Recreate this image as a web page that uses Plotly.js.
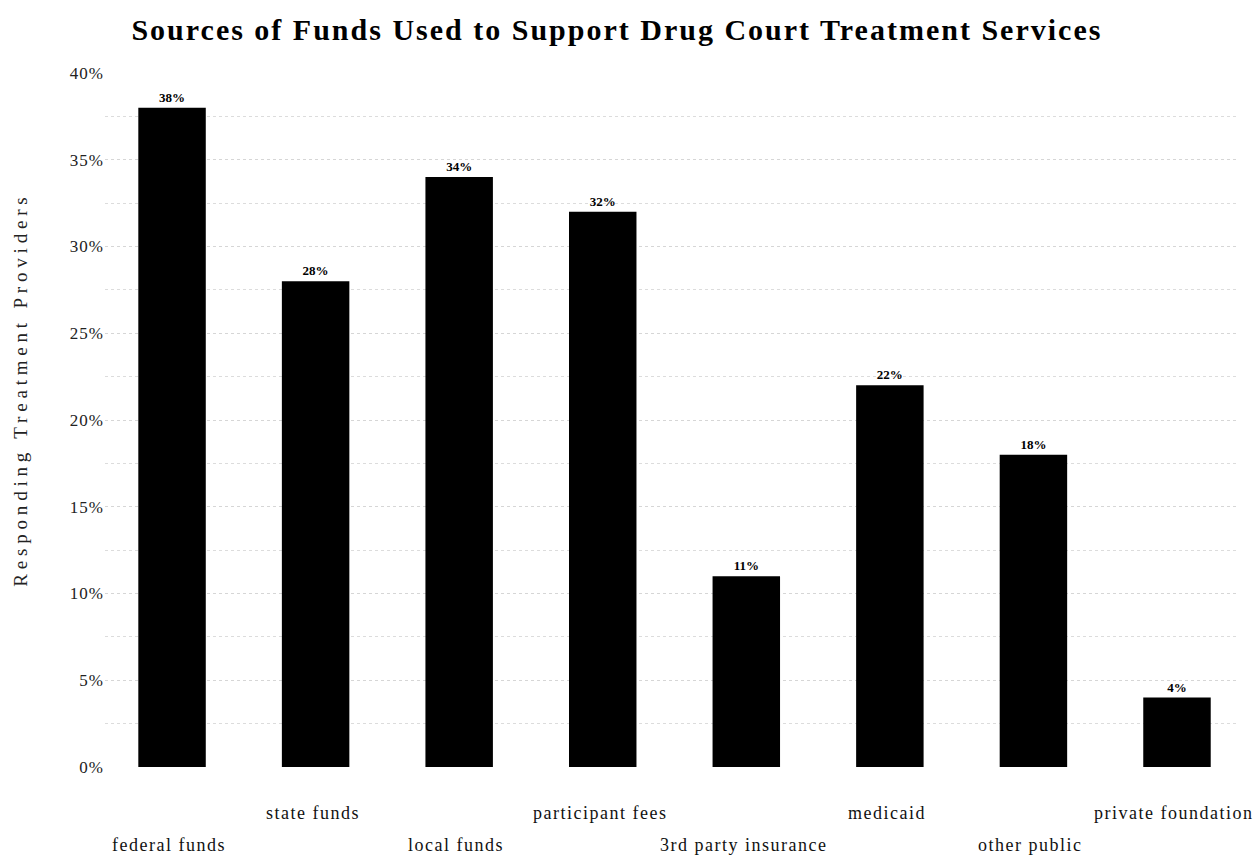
<!DOCTYPE html>
<html><head><meta charset="utf-8">
<script src="https://cdn.plot.ly/plotly-3.0.1.min.js"></script>
<style>
html,body{margin:0;padding:0;background:#fff;}
#chart{width:1259px;height:857px;}
.gtitle{letter-spacing:2px;}
.annotation-text{letter-spacing:1.5px;}
.ytick text{letter-spacing:1px;}
</style>
</head><body>
<div id="chart"></div>
<script>
const categories = ["federal funds","state funds","local funds","participant fees","3rd party insurance","medicaid","other public","private foundation"];
const values = [38, 28, 34, 32, 11, 22, 18, 4];
const labelRow = [1, 0, 1, 0, 1, 0, 1, 0]; // 1 = lower row, 0 = upper row
const yTitle = 'Responding Treatment Providers';

const serif = "'Liberation Serif', 'Times New Roman', Times, serif";

const annotations = categories.map((c, i) => ({
  x: c, y: 0, xref: 'x', yref: 'y',
  text: c, showarrow: false, yanchor: 'middle',
  yshift: labelRow[i] ? -78 : -46, xshift: -3,
  font: {family: serif, size: 18, color: '#111'}
}));
annotations.push({
  x: 0, xref: 'paper', xanchor: 'center', xshift: -85,
  y: 0.543, yref: 'paper', yanchor: 'middle',
  text: yTitle, textangle: -90, showarrow: false,
  font: {family: serif, size: 19, color: '#222'},
  name: 'ytitle'
});

const trace = {
  type: 'bar', x: categories, y: values,
  marker: {color: '#000', line: {width: 0}},
  width: 0.47,
  text: values.map(v => v + '%'),
  texttemplate: '<b>%{text}</b>',
  textposition: 'outside',
  textfont: {family: serif, size: 13, color: '#000'},
  cliponaxis: false,
  hoverinfo: 'skip'
};

const layout = {
  width: 1259, height: 857,
  margin: {l: 105, r: 22, t: 73, b: 90},
  paper_bgcolor: '#fff', plot_bgcolor: '#fff',
  title: {text: '<b>Sources of Funds Used to Support Drug Court Treatment Services</b>',
    x: 0.49, xanchor: 'center', y: 0.965, yanchor: 'middle',
    font: {family: serif, size: 30, color: '#000'}},
  xaxis: {type: 'category', range: [-0.467, 7.418], showticklabels: false,
    showgrid: false, zeroline: false, showline: false, ticks: ''},
  yaxis: {range: [0, 40], dtick: 5, tick0: 0, ticksuffix: '%',
    showgrid: true, gridcolor: '#d6d6d6', griddash: 'dot', gridwidth: 1,
    minor: {dtick: 2.5, showgrid: true, gridcolor: '#dcdcdc', griddash: 'dot', gridwidth: 1},
    zeroline: false, showline: false, ticks: '',
    tickfont: {family: serif, size: 17, color: '#222'}},
  annotations: annotations,
  showlegend: false,
  bargap: 0.5
};

Plotly.newPlot('chart', [trace], layout, {displayModeBar: false, staticPlot: true}).then(() => {
  const anns = document.querySelectorAll('.annotation-text');
  const last = anns[anns.length - 1];
  if (last) last.style.letterSpacing = '4.8px';
});
</script>
</body></html>
